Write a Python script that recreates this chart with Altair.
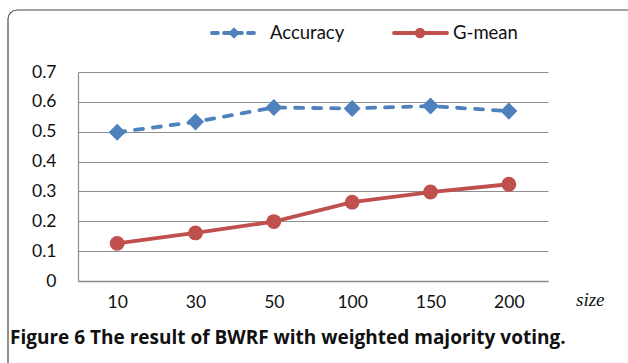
import altair as alt
import pandas as pd

sizes = ["10", "30", "50", "100", "150", "200"]
accuracy = [0.498, 0.533, 0.581, 0.578, 0.586, 0.569]
gmean = [0.126, 0.161, 0.199, 0.264, 0.298, 0.324]
series_names = ["Accuracy", "G-mean"]
colors = ["#4F81BD", "#C0504D"]
y_ticks = [0, 0.1, 0.2, 0.3, 0.4, 0.5, 0.6, 0.7]
caption = "Figure 6 The result of BWRF with weighted majority voting."

rows = []
for s, a, g in zip(sizes, accuracy, gmean):
    rows.append({"size": s, "value": a, "series": series_names[0]})
    rows.append({"size": s, "value": g, "series": series_names[1]})
df = pd.DataFrame(rows)

W, H = 470, 209
FONT = "Lato"

x_enc = alt.X("size:O", sort=sizes, scale=alt.Scale(domain=sizes),
              axis=alt.Axis(title=None, labelAngle=0, tickSize=0, labelPadding=12,
                            labelFontSize=17.5, labelFont=FONT, labelColor="#111",
                            domainColor="#8a8a8a", domainWidth=1.5, grid=False))
y_enc = alt.Y("value:Q", scale=alt.Scale(domain=[0, 0.7], nice=False, zero=True),
              axis=alt.Axis(title=None, values=y_ticks, format="~g", tickSize=0, labelPadding=22,
                            labelFontSize=17.5, labelFont=FONT, labelColor="#111",
                            domainColor="#8a8a8a", domainWidth=1.2,
                            grid=True, gridColor="#8f8f8f", gridWidth=1.2))
color_enc = alt.Color("series:N", scale=alt.Scale(domain=series_names, range=colors), legend=None)

base = alt.Chart(df)
acc_line = base.transform_filter(alt.datum.series == "Accuracy").mark_line(
    strokeWidth=3.8, strokeDash=[8, 10], strokeCap="round").encode(x=x_enc, y=y_enc, color=color_enc)
gm_line = base.transform_filter(alt.datum.series == "G-mean").mark_line(
    strokeWidth=3.8).encode(x=x_enc, y=y_enc, color=color_enc)
pts = base.mark_point(filled=True, opacity=1).encode(
    x=x_enc, y=y_enc, color=color_enc,
    size=alt.Size("series:N", scale=alt.Scale(domain=series_names, range=[290, 220]), legend=None),
    shape=alt.Shape("series:N", scale=alt.Scale(domain=series_names, range=["diamond", "circle"]), legend=None))

one = alt.Data(values=[{}])

border = alt.Chart(one).mark_rect(fill=None, stroke="#4a4a4a", strokeWidth=1.2, cornerRadius=9).encode(
    x=alt.value(-70), x2=alt.value(700), y=alt.value(-62), y2=alt.value(420))

leg_acc_line = alt.Chart(one).mark_rule(color=colors[0], strokeWidth=3.8, strokeDash=[6, 6],
                                        strokeCap="round").encode(
    x=alt.value(134), x2=alt.value(179), y=alt.value(-39))
leg_acc_pt = alt.Chart(one).mark_point(shape="diamond", filled=True, opacity=1, size=130, color=colors[0]).encode(
    x=alt.value(156), y=alt.value(-39))
leg_acc_txt = alt.Chart(one).mark_text(text=series_names[0], align="left", baseline="middle",
                                       font=FONT, fontSize=18.5, color="#111").encode(
    x=alt.value(192), y=alt.value(-39))
leg_gm_line = alt.Chart(one).mark_rule(color=colors[1], strokeWidth=3.8, strokeCap="round").encode(
    x=alt.value(316), x2=alt.value(369), y=alt.value(-39))
leg_gm_pt = alt.Chart(one).mark_point(shape="circle", filled=True, opacity=1, size=110, color=colors[1]).encode(
    x=alt.value(342), y=alt.value(-39))
leg_gm_txt = alt.Chart(one).mark_text(text=series_names[1], align="left", baseline="middle",
                                      font=FONT, fontSize=18.5, color="#111").encode(
    x=alt.value(375), y=alt.value(-39))

size_lbl = alt.Chart(one).mark_text(text="size", align="left", baseline="middle", font="Liberation Serif",
                                    fontStyle="italic", fontSize=19, color="#111").encode(
    x=alt.value(498), y=alt.value(228))
cap = alt.Chart(one).mark_text(text=caption, align="left", baseline="middle", font="Open Sans",
                               fontWeight="bold", fontSize=19, color="#111").encode(
    x=alt.value(-68), y=alt.value(266))

chart = alt.layer(
    border, acc_line, gm_line, pts,
    leg_acc_line, leg_acc_pt, leg_acc_txt, leg_gm_line, leg_gm_pt, leg_gm_txt,
    size_lbl, cap
).properties(
    width=W, height=H,
    autosize=alt.AutoSizeParams(type="none"),
    padding={"left": 78, "top": 72, "right": 80, "bottom": 82},
    background="white",
).configure_view(stroke=None)

chart.save("out.html", embed_options={"renderer": "svg", "actions": False})
